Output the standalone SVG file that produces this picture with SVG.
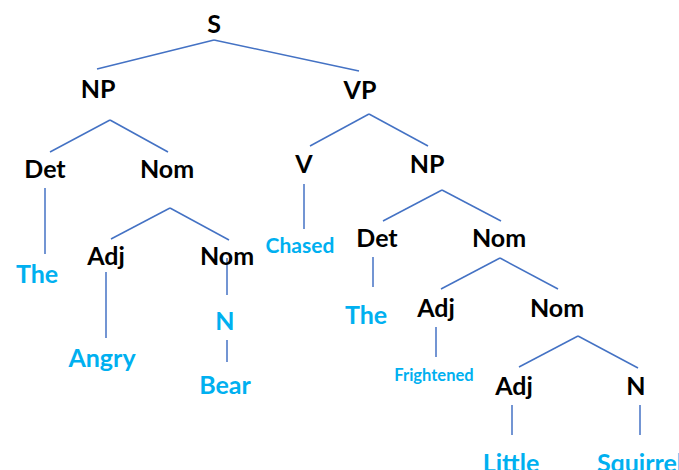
<svg xmlns="http://www.w3.org/2000/svg" width="679" height="470" viewBox="0 0 679 470">
<style>
text{font-family:Lato,"Open Sans","Liberation Sans",sans-serif;font-weight:bold;text-anchor:middle}
.c{fill:#000;font-size:25px}
.w{fill:#00B0F0;font-size:25px}
.e line{stroke:#4472C4;stroke-width:1.5;fill:none}
</style>
<rect width="679" height="470" fill="#fff"/>
<g id="connectors" class="e">
<line x1="214" y1="40" x2="97" y2="69"/>
<line x1="214" y1="40" x2="359" y2="71"/>
<line x1="110" y1="120" x2="50" y2="152"/>
<line x1="110" y1="120" x2="168" y2="152"/>
<line x1="369" y1="114" x2="310" y2="146"/>
<line x1="369" y1="114" x2="428" y2="146"/>
<line x1="45" y1="188" x2="45" y2="254"/>
<line x1="304" y1="184" x2="304" y2="229"/>
<line x1="170" y1="208" x2="111" y2="239"/>
<line x1="170" y1="208" x2="229" y2="240"/>
<line x1="106" y1="272" x2="106" y2="338"/>
<line x1="227" y1="258" x2="227" y2="295"/>
<line x1="227" y1="340" x2="227" y2="362"/>
<line x1="442" y1="190" x2="383" y2="221"/>
<line x1="442" y1="190" x2="501" y2="221"/>
<line x1="373" y1="257" x2="373" y2="287"/>
<line x1="500" y1="258" x2="441" y2="289"/>
<line x1="500" y1="258" x2="558" y2="289"/>
<line x1="436" y1="327" x2="436" y2="357"/>
<line x1="578" y1="336" x2="519" y2="367"/>
<line x1="578" y1="336" x2="638" y2="368"/>
<line x1="512" y1="405" x2="512" y2="435"/>
<line x1="640" y1="405" x2="640" y2="435"/>
</g>
<g id="n-S"><text class="c" x="214" y="33">S</text></g>
<g id="n-NP1"><text class="c" x="98" y="98">NP</text></g>
<g id="n-VP"><text class="c" x="360" y="99">VP</text></g>
<g id="n-Det1"><text class="c" x="45" y="178">Det</text></g>
<g id="n-Nom1"><text class="c" x="167" y="178">Nom</text></g>
<g id="n-V"><text class="c" x="304" y="173">V</text></g>
<g id="n-NP2"><text class="c" x="427" y="173">NP</text></g>
<g id="n-The1"><text class="w" x="37" y="283">The</text></g>
<g id="n-Chased"><text class="w" x="300" y="253" style="font-size:21px">Chased</text></g>
<g id="n-Adj1"><text class="c" x="106" y="265">Adj</text></g>
<g id="n-Nom2"><text class="c" x="227" y="265">Nom</text></g>
<g id="n-Angry"><text class="w" x="102" y="367">Angry</text></g>
<g id="n-N1"><text class="w" x="225" y="330">N</text></g>
<g id="n-Bear"><text class="w" x="225" y="394">Bear</text></g>
<g id="n-Det2"><text class="c" x="377" y="247">Det</text></g>
<g id="n-Nom3"><text class="c" x="499" y="247">Nom</text></g>
<g id="n-The2"><text class="w" x="366" y="324">The</text></g>
<g id="n-Adj2"><text class="c" x="436" y="317">Adj</text></g>
<g id="n-Nom4"><text class="c" x="557" y="317">Nom</text></g>
<g id="n-Frightened"><text class="w" x="434" y="381" style="font-size:16.5px">Frightened</text></g>
<g id="n-Adj3"><text class="c" x="514" y="395">Adj</text></g>
<g id="n-N2"><text class="c" x="636" y="395">N</text></g>
<g id="n-Little"><text class="w" x="511" y="472">Little</text></g>
<g id="n-Squirrel"><text class="w" x="640" y="472">Squirrel</text></g>
</svg>
